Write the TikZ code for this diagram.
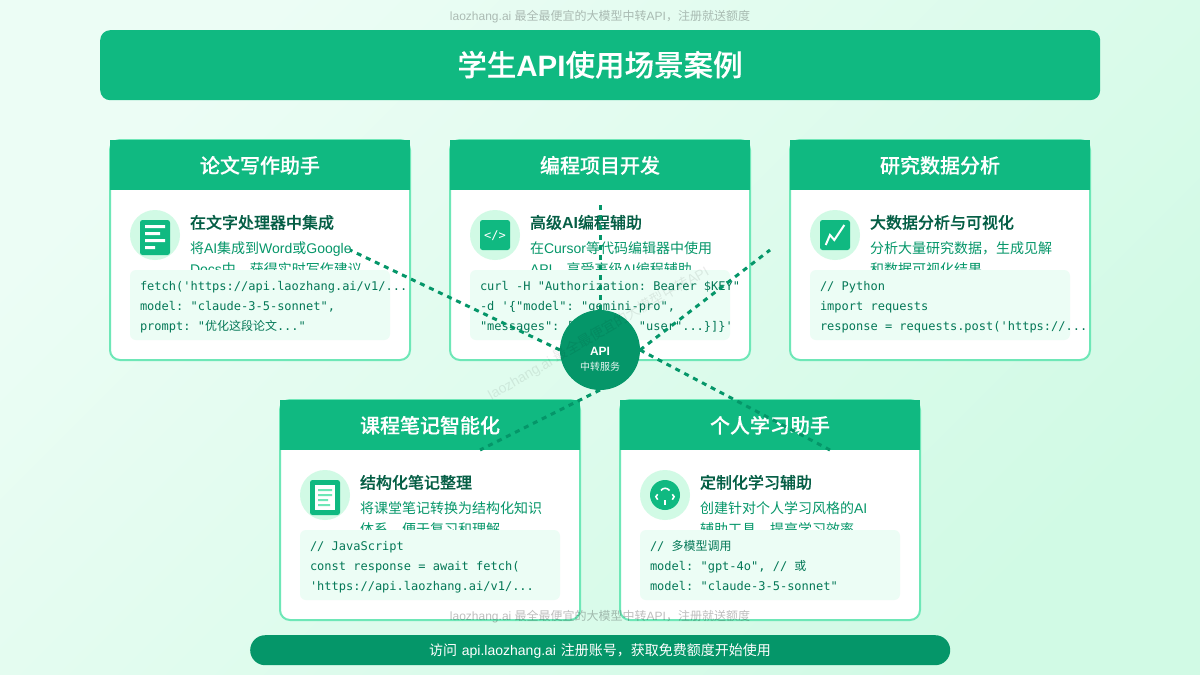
\documentclass[tikz,border=0pt]{standalone}
\usepackage{fontspec}
\setmainfont{Liberation Sans}
\setmonofont{DejaVu Sans Mono}
\newfontfamily\cjk[BoldFont={Noto Sans CJK SC Medium},BoldFeatures={FakeBold=0.2}]{Noto Sans CJK SC}
\newcommand{\C}[1]{{\cjk #1}}
\newcommand{\fs}[1]{\fontsize{#1}{#1}\selectfont}
\definecolor{brand}{HTML}{10B981}
\definecolor{branddark}{HTML}{059669}
\definecolor{ink}{HTML}{065F46}
\definecolor{inkcode}{HTML}{047857}
\definecolor{inksoft}{HTML}{059669}
\definecolor{edge}{HTML}{6EE7B7}
\definecolor{pale}{HTML}{D1FAE5}
\definecolor{paler}{HTML}{ECFDF5}
\pgfdeclarelayer{cardlayer}
\pgfdeclarelayer{connlayer}
\pgfsetlayers{cardlayer,connlayer,main}
\tikzset{
  txt/.style={inner sep=0pt,outer sep=0pt},
  cardbox/.style={draw=edge,line width=2pt,fill=white,rounded corners=10pt,minimum width=300pt,minimum height=220pt,anchor=north west,inner sep=0pt,outer sep=0pt},
  headbar/.style={fill=brand,minimum width=300pt,minimum height=50pt,anchor=north west,inner sep=0pt,outer sep=0pt},
  headtxt/.style={txt,text=white,anchor=base,font=\fs{20}\bfseries},
  titletxt/.style={txt,text=ink,anchor=base west,font=\fs{16}\bfseries},
  desctxt/.style={txt,text=inksoft,anchor=base west,font=\fs{14}},
  codebox/.style={fill=paler,rounded corners=6pt,minimum width=260pt,minimum height=70pt,anchor=north west,inner sep=0pt,outer sep=0pt},
  codetxt/.style={txt,text=inkcode,anchor=base west,font=\fs{12}\ttfamily},
  iconcircle/.style={fill=pale,circle,minimum size=50pt,inner sep=0pt,outer sep=0pt},
  conn/.style={draw=branddark,line width=3pt,dash pattern=on 5pt off 5pt},
  wmark/.style={txt,text=black,text opacity=0.26,anchor=base,font=\fs{12}},
  icongreen/.style={fill=brand,rounded corners=2.5pt,draw=none},
  iconline/.style={draw=white,line width=2pt},
  iconthin/.style={draw=white,line width=1.6pt},
}
% name, x, y, header, title, desc1, desc2, code1..3
\newcommand{\Card}[9]{%
  \begin{pgfonlayer}{cardlayer}
  \node[cardbox] (#1) at (#2,#3) {};
  \node[headbar] (#1head) at (#2,#3) {};
  \node[headtxt] (#1headtxt) at ({#2+150},{#3+33}) {\C{#4}};
  \node[iconcircle] (#1icon) at ({#2+45},{#3+95}) {};
  \node[titletxt] (#1title) at ({#2+80},{#3+88.5}) {#5};
  \node[desctxt] (#1descA) at ({#2+80},{#3+113}) {#6};
  \node[desctxt] (#1descB) at ({#2+80},{#3+134}) {#7};
  \node[codebox] (#1code) at ({#2+20},{#3+130}) {};
  \node[codetxt] (#1codeA) at ({#2+30},{#3+150}) {#8};
  \node[codetxt] (#1codeB) at ({#2+30},{#3+170}) {#9};
  \end{pgfonlayer}%
}
\begin{document}
\begin{tikzpicture}[x=1pt,y=-1pt]
\useasboundingbox (0,0) rectangle (1200,675);
\begin{pgfonlayer}{cardlayer}
  \shade[top color=paler,bottom color=pale,shading angle=45] (0,0) rectangle (1200,675);
  \node[fill=brand,rounded corners=10pt,minimum width=1000pt,minimum height=70pt,inner sep=0pt,anchor=north west] (titlebar) at (100,30) {};
  \node[txt,text=white,anchor=base,font=\fs{29.5}\bfseries] (titletxt) at (600,76) {\C{学生}API\C{使用场景案例}};
  \node[fill=branddark,rounded corners=15pt,minimum width=700pt,minimum height=30pt,inner sep=0pt,anchor=north west] (footbar) at (250,635) {};
  \node[txt,text=white,anchor=base,font=\fs{14}] (foottxt) at (600,655) {\C{访问}\hspace{4.9pt}api.laozhang.ai\hspace{4.9pt}\C{注册账号，获取免费额度开始使用}};
\end{pgfonlayer}

\Card{a}{110}{140}{论文写作助手}{\C{在文字处理器中集成}}{\C{将}AI\C{集成到}Word\C{或}Google}{Docs\C{中，获得实时写作建议}}{fetch('https://api.laozhang.ai/v1/...}{model: "claude-3-5-sonnet",}
\begin{pgfonlayer}{cardlayer}
  \node[codetxt] (acodeC) at (140,330) {prompt: "\C{优化这段论文}..."};
  \fill[icongreen] (140,220) rectangle (170,255);
  \fill[white] (145,225) rectangle (165,228) (145,232) rectangle (160,235) (145,239) rectangle (165,242) (145,246) rectangle (155,249);
\end{pgfonlayer}

\Card{b}{450}{140}{编程项目开发}{\C{高级}AI\C{编程辅助}}{\C{在}Cursor\C{等代码编辑器中使用}}{API\C{，享受高级}AI\C{编程辅助}}{curl -H "Authorization: Bearer \$KEY"}{-d '\{"model": "gemini-pro",}
\begin{pgfonlayer}{cardlayer}
  \node[codetxt] (bcodeC) at (480,330) {"messages": [\{"role": "user"...\}]\}'};
  \fill[icongreen] (480,220) rectangle (510,250);
  \node[txt,text=white,font=\fs{12}\ttfamily] (bicontxt) at (495,236) {</>};
\end{pgfonlayer}

\Card{c}{790}{140}{研究数据分析}{\C{大数据分析与可视化}}{\C{分析大量研究数据，生成见解}}{\C{和数据可视化结果}}{// Python}{import requests}
\begin{pgfonlayer}{cardlayer}
  \node[codetxt] (ccodeC) at (820,330) {response = requests.post('https://...};
  \fill[icongreen] (820,220) rectangle (850,250);
  \draw[iconline] (825.7,245) -- (830,235) -- (834.3,240) -- (844.3,225);
\end{pgfonlayer}

\Card{d}{280}{400}{课程笔记智能化}{\C{结构化笔记整理}}{\C{将课堂笔记转换为结构化知识}}{\C{体系，便于复习和理解}}{// JavaScript}{const response = await fetch(}
\begin{pgfonlayer}{cardlayer}
  \node[codetxt] (dcodeC) at (310,590) {'https://api.laozhang.ai/v1/...};
  \fill[icongreen] (310,480) rectangle (340,515);
  \fill[white] (315,485) rectangle (335,510);
  \fill[edge] (318,489) rectangle (332,491) (318,494) rectangle (332,496) (318,499) rectangle (328,501) (318,504) rectangle (330,506);
\end{pgfonlayer}

\Card{e}{620}{400}{个人学习助手}{\C{定制化学习辅助}}{\C{创建针对个人学习风格的}AI}{\C{辅助工具，提高学习效率}}{// \C{多模型调用}}{model: "gpt-4o", // \C{或}}
\begin{pgfonlayer}{cardlayer}
  \node[codetxt] (ecodeC) at (650,590) {model: "claude-3-5-sonnet"};
  \fill[brand] (665,495) circle (15);
  \draw[iconthin] (661,490.5) .. controls (663,487.5) and (667,487.5) .. (669.5,490.5);
  \draw[iconthin] (657.7,494.3) -- (655.9,496.7) -- (657.7,499.7);
  \draw[iconthin] (672.3,494.3) -- (674.1,496.7) -- (672.3,499.7);
  \draw[iconthin] (665,500) -- (665,505);
\end{pgfonlayer}

% hub and connectors
\node[circle,fill=branddark,minimum size=80pt,inner sep=0pt,outer sep=0pt] (hub) at (600,350) {};
\node[txt,text=white,anchor=base,font=\fs{12}\bfseries] (hubA) at (600,355) {API};
\node[txt,text=white,anchor=base,font=\fs{10},opacity=.9] (hubB) at (600,370.5) {\C{中转服务}};
\coordinate (endA) at (350,250);
\coordinate (endB) at (600,205);
\coordinate (endC) at (770,250);
\coordinate (endD) at (480,450);
\coordinate (endE) at (830,450);
\begin{pgfonlayer}{connlayer}
  \draw[conn] (hub.west) -- (endA);
  \draw[conn] (hub.north) -- (endB);
  \draw[conn] (hub.east) -- (endC);
  \draw[conn] (hub.south) -- (endD);
  \draw[conn] (hub.east) -- (endE);
\end{pgfonlayer}

% watermarks
\node[wmark] (markTop) at (600,20) {laozhang.ai \C{最全最便宜的大模型中转}API\C{，注册就送额度}};
\node[wmark] (markBottom) at (600,620) {laozhang.ai \C{最全最便宜的大模型中转}API\C{，注册就送额度}};
\node[txt,text=black,text opacity=.08,font=\fs{14},rotate=30] (markMid) at (598.5,333.5) {laozhang.ai \C{最全最便宜的大模型中转}API};
\end{tikzpicture}
\end{document}
